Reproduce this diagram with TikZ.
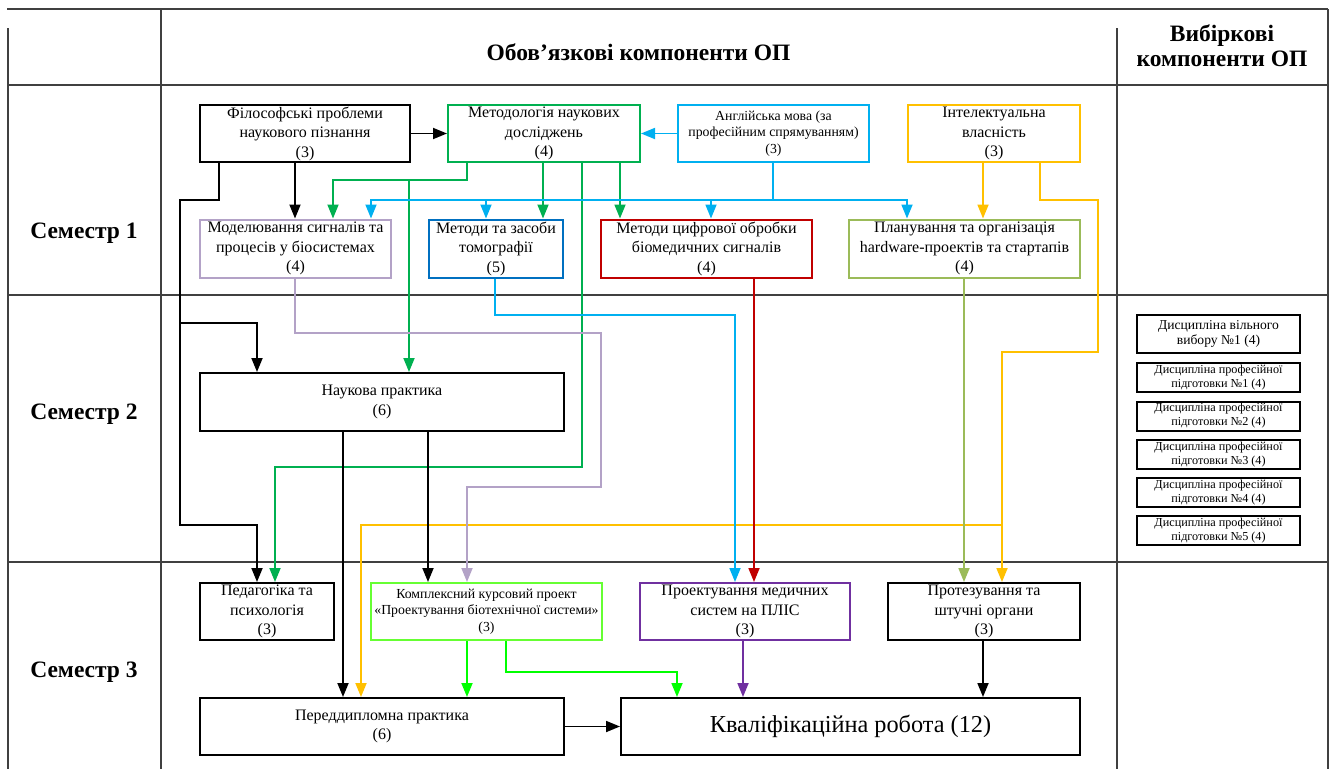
\documentclass[tikz,border=0pt]{standalone}
\usepackage{fontspec}
\setmainfont{Liberation Serif}
\usetikzlibrary{arrows.meta}
\definecolor{cgrid}{HTML}{404040}
\definecolor{cgreen}{HTML}{00B050}
\definecolor{ccyan}{HTML}{00B0F0}
\definecolor{cyell}{HTML}{FFC000}
\definecolor{clav}{HTML}{B3A2C7}
\definecolor{cblue}{HTML}{0070C0}
\definecolor{cred}{HTML}{C00000}
\definecolor{colive}{HTML}{9BBB59}
\definecolor{clime}{HTML}{66FF33}
\definecolor{climel}{HTML}{00FF00}
\definecolor{cpurp}{HTML}{7030A0}
\newcommand\fmain{\fontsize{16}{19.5}\selectfont}
\newcommand\fsml{\fontsize{13.8}{16.5}\selectfont}
\newcommand\fright{\fontsize{13.6}{15.5}\selectfont}
\newcommand\ftny{\fontsize{12.2}{14}\selectfont}
\newcommand\fbig{\fontsize{24.3}{28}\selectfont}
\newcommand\fhead{\fontsize{23.5}{25}\selectfont\bfseries}
\tikzset{
  box/.style={draw=#1, line width=2pt, fill=white, inner sep=0pt, anchor=north west, align=center, font=\fmain},
  box/.default=black,
  rbox/.style={draw=black, line width=2pt, fill=white, inner sep=0pt, anchor=north west, align=center, minimum width=163pt},
  arr/.style={line width=1.8pt, -{Triangle[length=14pt,width=11pt]}},
  ln/.style={line width=1.8pt},
  grid/.style={draw=cgrid, line width=1.8pt},
  lbl/.style={font=\fhead, align=center}
}
\begin{document}
\begin{tikzpicture}[x=1pt,y=-1pt]
\useasboundingbox (0,0) rectangle (1331,769);
% table grid
\draw[grid] (7,9) -- (1328,9);
\draw[grid] (8,28) -- (8,769);
\draw[grid] (161,9) -- (161,769);
\draw[grid] (1117,28) -- (1117,769);
\draw[grid] (1328,9) -- (1328,769);
\draw[grid] (8,85) -- (1328,85);
\draw[grid] (8,295) -- (1328,295);
\draw[grid] (8,562) -- (1328,562);
% headers
\node[lbl] (h1) at (638.5,52) {Обов’язкові компоненти ОП};
\node[lbl] (h2) at (1222,46) {Вибіркові\\компоненти ОП};
\node[lbl] (s1) at (84,233) {Семестр 1};
\node[lbl] (s2) at (84,414) {Семестр 2};
\node[lbl] (s3) at (84,672) {Семестр 3};
% boxes
\node[box, minimum width=210pt, minimum height=57pt] (filo) at (199,104) {Філософські проблеми\\наукового пізнання\\(3)};
\node[box=cgreen, minimum width=192pt, minimum height=57pt] (metod) at (447,104) {Методологія наукових\\досліджень\\(4)};
\node[box=ccyan, minimum width=191pt, minimum height=57pt, font=\fsml] (angl) at (677,104) {Англійська мова (за\\професійним спрямуванням)\\(3)};
\node[box=cyell, minimum width=172pt, minimum height=57pt] (intel) at (907,104) {Інтелектуальна\\власність\\(3)};
\node[box=clav, minimum width=191pt, minimum height=58pt] (model) at (199,218.5) {Моделювання сигналів та\\процесів у біосистемах\\(4)};
\node[box=cblue, minimum width=134pt, minimum height=58pt] (tomo) at (428,218.5) {Методи та засоби\\томографії\\(5)};
\node[box=cred, minimum width=211pt, minimum height=58pt] (digital) at (600,218.5) {Методи цифрової обробки\\біомедичних сигналів\\(4)};
\node[box=colive, minimum width=231pt, minimum height=58pt] (plan) at (848,218.5) {Планування та організація\\hardware-проектів та стартапів\\(4)};
\node[box, minimum width=364pt, minimum height=58pt] (nauk) at (199,372) {Наукова практика\\(6)};
\node[box, minimum width=134pt, minimum height=57pt] (ped) at (199,582) {Педагогіка та\\психологія\\(3)};
\node[box=clime, minimum width=231pt, minimum height=57pt, font=\fsml] (kurs) at (370,582) {Комплексний курсовий проект\\«Проектування біотехнічної системи»\\(3)};
\node[box=cpurp, minimum width=210pt, minimum height=57pt] (plis) at (639,582) {Проектування медичних\\систем на ПЛІС\\(3)};
\node[box, minimum width=192pt, minimum height=57pt] (proth) at (887,582) {Протезування та\\штучні органи\\(3)};
\node[box, minimum width=364pt, minimum height=57pt] (pered) at (199,697) {Переддипломна практика\\(6)};
\node[box, minimum width=459pt, minimum height=57pt, font=\fbig] (kval) at (620,697) {Кваліфікаційна робота (12)};
% elective column
\node[rbox, minimum height=38pt, font=\fright] (v1) at (1136,314) {Дисципліна вільного\\вибору №1 (4)};
\node[rbox, minimum height=29pt, font=\ftny] (p1) at (1136,362) {Дисципліна професійної\\підготовки №1 (4)};
\node[rbox, minimum height=29pt, font=\ftny] (p2) at (1136,400.5) {Дисципліна професійної\\підготовки №2 (4)};
\node[rbox, minimum height=29pt, font=\ftny] (p3) at (1136,439) {Дисципліна професійної\\підготовки №3 (4)};
\node[rbox, minimum height=29pt, font=\ftny] (p4) at (1136,477) {Дисципліна професійної\\підготовки №4 (4)};
\node[rbox, minimum height=29pt, font=\ftny] (p5) at (1136,515) {Дисципліна професійної\\підготовки №5 (4)};
% connectors
\coordinate (jb) at (180,323);
\coordinate (jg) at (409,180);
\coordinate (jc) at (773,200);
\coordinate (jy) at (1002,525);
\draw[arr] (filo.east) -- (metod.west);
\draw[arr, ccyan] (angl.west) -- (metod.east);
\draw[arr] (filo.south -| 295,0) -- (model.north -| 295,0);
\draw[arr] (filo.south -| 219,0) -- (219,200) -- (180,200) -- (180,525) -- (257,525) -- (ped.north -| 257,0);
\draw[arr] (jb) -- (257,323) -- (nauk.north -| 257,0);
\draw[arr, cgreen] (metod.south -| 467,0) -- (467,180) -- (333,180) -- (model.north -| 333,0);
\draw[arr, cgreen] (jg) -- (nauk.north -| 409,0);
\draw[arr, cgreen] (metod.south -| 543,0) -- (tomo.north -| 543,0);
\draw[arr, cgreen] (metod.south -| 620,0) -- (digital.north -| 620,0);
\draw[arr, cgreen] (metod.south -| 582,0) -- (582,467) -- (275,467) -- (ped.north -| 275,0);
\draw[ln, ccyan] (angl.south -| 773,0) -- (jc);
\draw[arr, ccyan] (jc) -- (371,200) -- (model.north -| 371,0);
\draw[arr, ccyan] (jc) -- (486,200) -- (tomo.north -| 486,0);
\draw[arr, ccyan] (jc) -- (711,200) -- (digital.north -| 711,0);
\draw[arr, ccyan] (jc) -- (907,200) -- (plan.north -| 907,0);
\draw[arr, cyell] (intel.south -| 983,0) -- (plan.north -| 983,0);
\draw[arr, cyell] (intel.south -| 1040,0) -- (1040,200) -- (1098,200) -- (1098,352) -- (1002,352) -- (proth.north -| 1002,0);
\draw[arr, cyell] (jy) -- (361,525) -- (pered.north -| 361,0);
\draw[arr, clav] (model.south -| 295,0) -- (295,333) -- (601,333) -- (601,487) -- (467,487) -- (kurs.north -| 467,0);
\draw[arr, ccyan] (tomo.south -| 495,0) -- (495,315) -- (735,315) -- (plis.north -| 735,0);
\draw[arr, cred] (digital.south -| 754,0) -- (plis.north -| 754,0);
\draw[arr, colive] (plan.south -| 964,0) -- (proth.north -| 964,0);
\draw[arr] (nauk.south -| 343,0) -- (pered.north -| 343,0);
\draw[arr] (nauk.south -| 428,0) -- (kurs.north -| 428,0);
\draw[arr, climel] (kurs.south -| 467,0) -- (pered.north -| 467,0);
\draw[arr, climel] (kurs.south -| 506,0) -- (506,672) -- (677,672) -- (kval.north -| 677,0);
\draw[arr, cpurp] (plis.south -| 743,0) -- (kval.north -| 743,0);
\draw[arr] (proth.south -| 983,0) -- (kval.north -| 983,0);
\draw[arr] (pered.east) -- (kval.west);
\end{tikzpicture}
\end{document}
